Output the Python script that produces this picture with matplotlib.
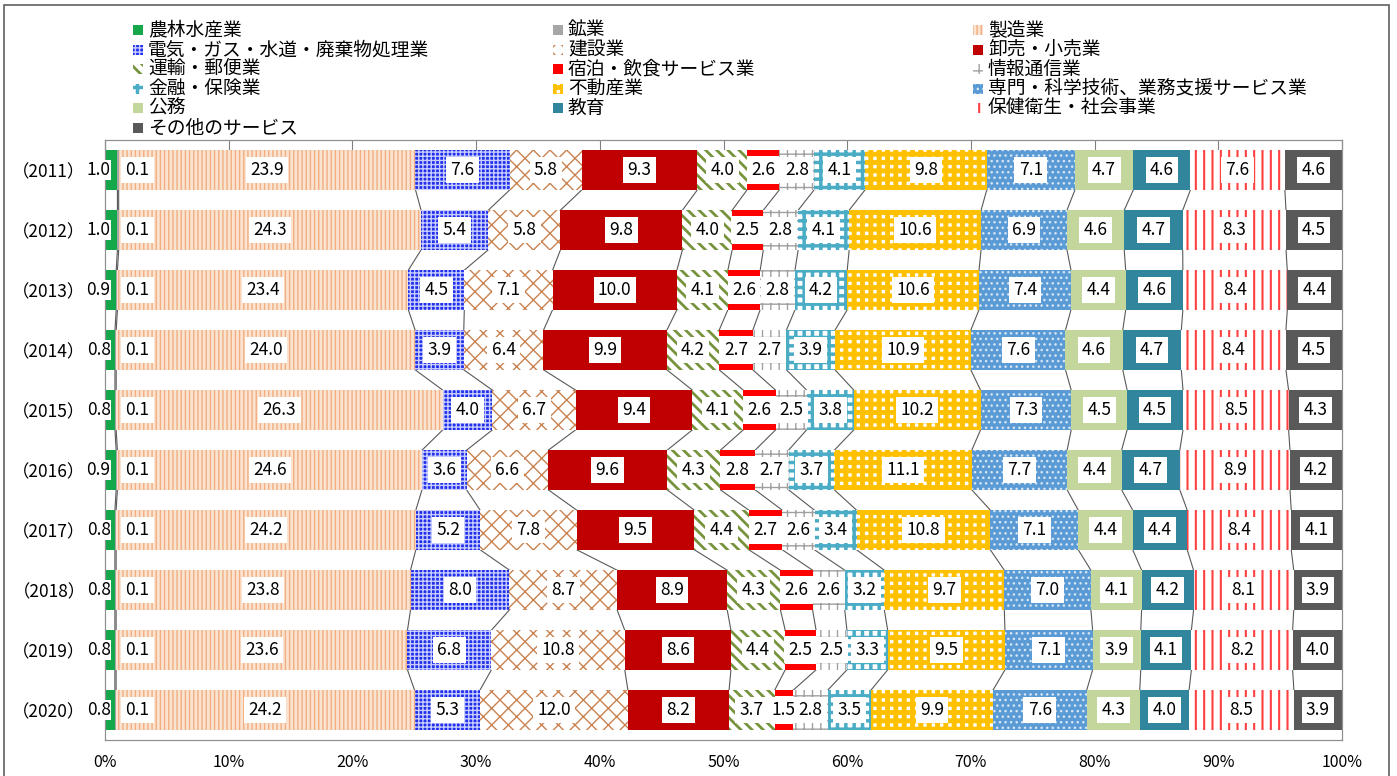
import matplotlib.pyplot as plt
import numpy as np
from matplotlib.patches import Rectangle

plt.rcParams['font.family'] = ['Noto Sans CJK JP', 'DejaVu Sans']
plt.rcParams['hatch.linewidth'] = 1.0

years = ["2011", "2012", "2013", "2014", "2015", "2016", "2017", "2018", "2019", "2020"]

industries = [
    "農林水産業", "鉱業", "製造業", "電気・ガス・水道・廃棄物処理業", "建設業",
    "卸売・小売業", "運輸・郵便業", "宿泊・飲食サービス業", "情報通信業", "金融・保険業",
    "不動産業", "専門・科学技術、業務支援サービス業", "公務", "教育", "保健衛生・社会事業",
    "その他のサービス",
]

# 構成比(%)  2011 → 2020
agriculture = [1.0, 1.0, 0.9, 0.8, 0.8, 0.9, 0.8, 0.8, 0.8, 0.8]
mining = [0.1, 0.1, 0.1, 0.1, 0.1, 0.1, 0.1, 0.1, 0.1, 0.1]
manufacturing = [23.9, 24.3, 23.4, 24.0, 26.3, 24.6, 24.2, 23.8, 23.6, 24.2]
utilities = [7.6, 5.4, 4.5, 3.9, 4.0, 3.6, 5.2, 8.0, 6.8, 5.3]
construction = [5.8, 5.8, 7.1, 6.4, 6.7, 6.6, 7.8, 8.7, 10.8, 12.0]
trade = [9.3, 9.8, 10.0, 9.9, 9.4, 9.6, 9.5, 8.9, 8.6, 8.2]
transport = [4.0, 4.0, 4.1, 4.2, 4.1, 4.3, 4.4, 4.3, 4.4, 3.7]
hospitality = [2.6, 2.5, 2.6, 2.7, 2.6, 2.8, 2.7, 2.6, 2.5, 1.5]
ict = [2.8, 2.8, 2.8, 2.7, 2.5, 2.7, 2.6, 2.6, 2.5, 2.8]
finance = [4.1, 4.1, 4.2, 3.9, 3.8, 3.7, 3.4, 3.2, 3.3, 3.5]
real_estate = [9.8, 10.6, 10.6, 10.9, 10.2, 11.1, 10.8, 9.7, 9.5, 9.9]
professional = [7.1, 6.9, 7.4, 7.6, 7.3, 7.7, 7.1, 7.0, 7.1, 7.6]
public_admin = [4.7, 4.6, 4.4, 4.6, 4.5, 4.4, 4.4, 4.1, 3.9, 4.3]
education = [4.6, 4.7, 4.6, 4.7, 4.5, 4.7, 4.4, 4.2, 4.1, 4.0]
health = [7.6, 8.3, 8.4, 8.4, 8.5, 8.9, 8.4, 8.1, 8.2, 8.5]
other_services = [4.6, 4.5, 4.4, 4.5, 4.3, 4.2, 4.1, 3.9, 4.0, 3.9]

values = np.array([
    agriculture, mining, manufacturing, utilities, construction, trade, transport,
    hospitality, ict, finance, real_estate, professional, public_admin, education,
    health, other_services,
])

# (塗り, ハッチ色, ハッチ, ハッチ線幅)
styles = [
    ("#14A84A", "#14A84A", None, 1.0),
    ("#A6A6A6", "#A6A6A6", None, 1.0),
    ("#FBE3D1", "#F2AE80", "||||", 1.0),
    ("#1F2FEA", "#C8CCFF", "++++", 1.0),
    ("white", "#C98250", "xx", 1.0),
    ("#C00000", "#C00000", None, 1.0),
    ("white", "#77933C", "\\\\\\", 2.0),
    ("#FF0000", "#FF0000", None, 1.0),
    ("white", "#A0A0A0", "++", 1.0),
    ("white", "#4BACC6", "++", 2.5),
    ("white", "#FFC000", "++", 3.5),
    ("#5B9BD5", "#D6E6F5", "...", 1.0),
    ("#C3D69B", "#C3D69B", None, 1.0),
    ("#31859C", "#31859C", None, 1.0),
    ("white", "#FF4040", "||", 1.5),
    ("#595959", "#595959", None, 1.0),
]

shares = values / values.sum(axis=0) * 100
ends = np.cumsum(shares, axis=0)
starts = ends - shares

fig = plt.figure(figsize=(13.97, 7.76), dpi=100)
ax = fig.add_axes([105 / 1397, 36 / 776, 1237 / 1397, 600 / 776])

y = np.arange(len(years))
h = 0.66

# 系列線
for i in range(len(industries) - 1):
    for k in range(len(years) - 1):
        ax.plot([ends[i, k], ends[i, k + 1]], [k + h / 2, k + 1 - h / 2],
                color="#595959", lw=0.8, zorder=1)

for i, name in enumerate(industries):
    face, hcolor, hatch, hlw = styles[i]
    with plt.rc_context({"hatch.linewidth": hlw}):
        ax.barh(y, shares[i], left=starts[i], height=h, color=face, edgecolor=hcolor,
                hatch=hatch, linewidth=0, zorder=2)
    if name == "宿泊・飲食サービス業":
        ax.barh(y, shares[i], left=starts[i], height=h * 0.7, color="white",
                linewidth=0, zorder=2)

box = dict(boxstyle="square,pad=0.25", fc="white", ec="none")
for i, name in enumerate(industries):
    for k in range(len(years)):
        txt = f"{values[i, k]:.1f}"
        if i == 0:
            ax.text(0.45, k, txt, ha="right", va="center", fontsize=12.5,
                    bbox=dict(boxstyle="square,pad=0.05", fc="white", ec="none"), zorder=4)
        elif i == 1:
            ax.text(2.6, k, txt, ha="center", va="center", fontsize=12.5, bbox=box, zorder=4)
        else:
            ax.text(starts[i, k] + shares[i, k] / 2, k, txt, ha="center", va="center",
                    fontsize=12.5, bbox=box, zorder=4)

ax.set_xlim(0, 100)
ax.set_ylim(len(years) - 0.5, -0.5)
ax.set_xticks(np.arange(0, 101, 10))
ax.set_xticklabels([f"{t}%" for t in range(0, 101, 10)], fontsize=11.5)
ax.set_yticks(y)
ax.set_yticklabels([f"（{yr}）" for yr in years], fontsize=12.5)
ax.tick_params(axis="x", which="both", bottom=False, top=True, direction="in",
               length=7, color="#808080", pad=10)
ax.tick_params(axis="y", length=0, pad=14)
for s in ax.spines.values():
    s.set_color("#909090")
    s.set_linewidth(0.9)

# 凡例(3列、行方向に並べる)
col_x = [133, 553, 973]
row_y0, row_step = 30, 19.6
for n, name in enumerate(industries):
    face, hcolor, hatch, hlw = styles[n]
    r, c = divmod(n, 3)
    x0 = col_x[c]
    yc = row_y0 + r * row_step
    with plt.rc_context({"hatch.linewidth": hlw}):
        fig.patches.append(Rectangle((x0 / 1397, 1 - (yc + 5) / 776), 10 / 1397, 10 / 776,
                                     transform=fig.transFigure, facecolor=face,
                                     edgecolor=hcolor, hatch=hatch, linewidth=0))
    fig.text((x0 + 15) / 1397, 1 - yc / 776, name, ha="left", va="center", fontsize=13.5)

# 外枠
fig.patches.append(Rectangle((4 / 1397, -0.02), 1385 / 1397, 1.02 - 5 / 776,
                             transform=fig.transFigure, fill=False,
                             edgecolor="#606060", linewidth=1.2))

fig.savefig("out.png", dpi=100)
